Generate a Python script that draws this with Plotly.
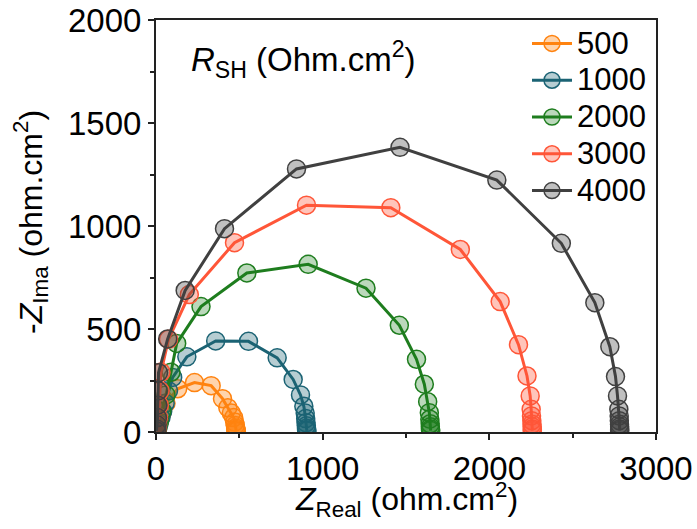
import plotly.graph_objects as go

# ---- data ----
labels = ["500", "1000", "2000", "3000", "4000"]

x_500 = [5, 8, 12, 20, 35, 60, 130, 231, 331, 399, 431, 452, 466, 472, 476, 478, 480, 481, 482]
y_500 = [5, 15, 30, 55, 90, 140, 210, 240, 225, 162, 118, 92, 70, 48, 32, 20, 12, 6, 3]

x_1000 = [5, 10, 18, 30, 40, 55, 75, 100, 185, 358, 555, 727, 823, 867, 887, 895, 898, 900, 902, 903, 904, 905]
y_1000 = [5, 20, 40, 70, 100, 140, 200, 265, 365, 442, 440, 360, 255, 180, 125, 92, 65, 45, 30, 18, 10, 5]

x_2000 = [5, 10, 20, 35, 60, 90, 124, 270, 545, 913, 1260, 1460, 1563, 1610, 1630, 1640, 1643, 1645, 1646, 1647, 1648]
y_2000 = [5, 20, 50, 100, 180, 290, 430, 609, 772, 814, 698, 518, 353, 232, 147, 94, 62, 40, 25, 14, 7]

x_3000 = [3, 6, 10, 15, 20, 25, 30, 75, 200, 471, 903, 1409, 1826, 2065, 2175, 2226, 2245, 2251, 2253, 2255, 2256, 2257, 2258, 2258]
y_3000 = [5, 15, 35, 70, 130, 200, 290, 450, 667, 919, 1101, 1089, 886, 633, 424, 272, 175, 110, 78, 55, 38, 25, 14, 7]

x_4000 = [3, 5, 7, 9, 11, 13, 15, 70, 175, 411, 843, 1464, 2045, 2432, 2633, 2723, 2757, 2769, 2777, 2779, 2780, 2781, 2782, 2782, 2782]
y_4000 = [5, 15, 35, 70, 130, 200, 288, 452, 687, 987, 1277, 1382, 1223, 916, 628, 414, 269, 175, 110, 78, 55, 38, 25, 14, 7]

xs = [x_500, x_1000, x_2000, x_3000, x_4000]
ys = [y_500, y_1000, y_2000, y_3000, y_4000]

line_colors = ["#FF8310", "#1B6374", "#1E7D1E", "#FF5638", "#404040"]
fill_colors = ["rgba(255,131,16,0.35)", "rgba(27,99,116,0.32)", "rgba(30,125,30,0.30)",
               "rgba(255,86,56,0.35)", "rgba(64,64,64,0.33)"]

FONT = "Arial, Liberation Sans, sans-serif"

fig = go.Figure()
for lab, x, y, lc, fc in zip(labels, xs, ys, line_colors, fill_colors):
    fig.add_trace(go.Scatter(
        x=x, y=y, name='<span style="font-size:31px">' + lab + '</span>', mode="lines+markers",
        line=dict(color=lc, width=3),
        marker=dict(size=18, color=fc, line=dict(color=lc, width=1.5)),
    ))

axis_common = dict(
    showline=True, linewidth=2, linecolor="#222222", mirror=True,
    ticks="outside", ticklen=6, tickwidth=1.5, tickcolor="#222222",
    showgrid=False, zeroline=False, automargin=False, ticklabeloverflow="allow",
    tickfont=dict(family=FONT, size=33, color="black"),
)

fig.update_xaxes(range=[0, 3000], tickvals=[0, 1000, 2000, 3000],
                 minor=dict(tickvals=[500, 1500, 2500], ticks="outside", ticklen=4, tickwidth=1.5, tickcolor="#222222"),
                 **axis_common)
fig.update_yaxes(range=[0, 2000], tickvals=[0, 500, 1000, 1500, 2000],
                 minor=dict(tickvals=[250, 750, 1250, 1750], ticks="outside", ticklen=4, tickwidth=1.5, tickcolor="#222222"),
                 **axis_common)

# axis titles
fig.add_annotation(x=0.5, y=-0.165, xref="paper", yref="paper", xanchor="center", yanchor="middle",
                   text="<i>Z</i><sub>Real</sub> (ohm.cm<sup>2</sup>)", showarrow=False,
                   font=dict(family=FONT, size=32, color="black"))
fig.add_annotation(x=-0.25, y=0.51, xref="paper", yref="paper", xanchor="center", yanchor="middle",
                   text="-<i>Z</i><sub>Ima</sub> (ohm.cm<sup>2</sup>)", showarrow=False, textangle=-90,
                   font=dict(family=FONT, size=32, color="black"))

fig.add_annotation(x=0.066, y=0.905, xref="paper", yref="paper", xanchor="left", yanchor="middle",
                   text="<i>R</i><sub>SH</sub> (Ohm.cm<sup>2</sup>)", showarrow=False,
                   font=dict(family=FONT, size=33, color="black"))

fig.update_layout(
    width=697, height=529,
    margin=dict(l=156, r=41, t=20, b=97),
    paper_bgcolor="white", plot_bgcolor="white",
    font=dict(family=FONT, size=26, color="black"),
    legend=dict(x=0.742, y=1.0, xanchor="left", yanchor="top",
                bgcolor="rgba(0,0,0,0)", font=dict(family=FONT, size=26),
                itemwidth=40, tracegroupgap=0),
)

# remove the default 8px page margin so the figure sits at the window's top-left corner
fig.write_html("out.html", config={"displayModeBar": False},
               post_script="document.body.style.margin='0px';")
